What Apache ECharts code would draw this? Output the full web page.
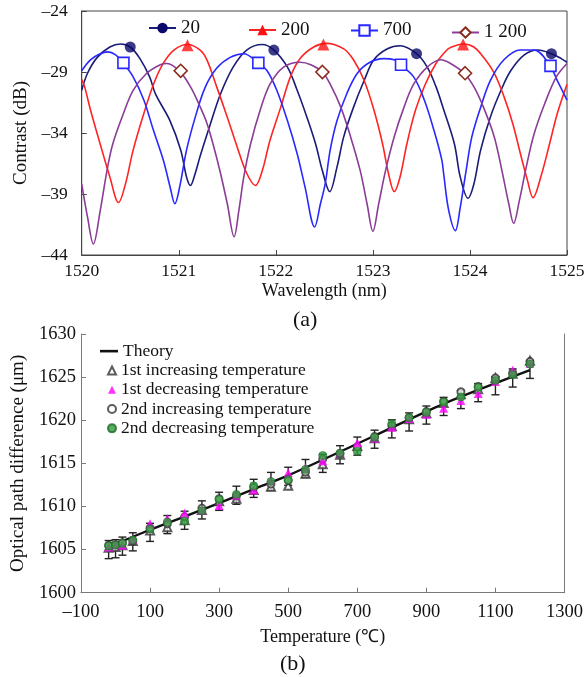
<!DOCTYPE html>
<html>
<head>
<meta charset="utf-8">
<script src="https://cdn.jsdelivr.net/npm/echarts/dist/echarts.min.js"></script>
<style>
html,body{margin:0;padding:0;background:#fff;}
#c{width:584px;height:677px;}
</style>
</head>
<body>
<div id="c"></div>
<script>
// ---------- (a) spectra: [wavelength nm, contrast dB] ----------
const curve20 = [[1520.00,-30.5],[1520.06,-29.1],[1520.16,-27.8],[1520.29,-26.95],[1520.40,-26.7],[1520.50,-26.95],[1520.60,-27.9],[1520.70,-29.4],[1520.76,-30.8],[1520.91,-33.0],[1521.02,-35.4],[1521.08,-37.6],[1521.12,-38.3],[1521.17,-37.3],[1521.22,-35.9],[1521.32,-33.4],[1521.43,-30.8],[1521.56,-28.6],[1521.70,-27.2],[1521.86,-26.75],[1521.98,-27.2],[1522.12,-28.6],[1522.22,-30.5],[1522.32,-32.7],[1522.41,-34.9],[1522.48,-37.1],[1522.555,-38.8],[1522.63,-36.8],[1522.70,-34.3],[1522.80,-31.9],[1522.91,-29.7],[1523.01,-28.0],[1523.15,-27.1],[1523.28,-26.85],[1523.45,-27.5],[1523.56,-28.6],[1523.65,-30.2],[1523.73,-32.1],[1523.84,-34.9],[1523.90,-37.6],[1523.98,-39.35],[1524.04,-38.2],[1524.11,-35.4],[1524.21,-32.7],[1524.32,-30.5],[1524.42,-28.9],[1524.56,-27.6],[1524.70,-27.2],[1524.84,-27.5],[1524.94,-27.9],[1525.00,-28.2]];
const curve200 = [[1520.00,-29.6],[1520.03,-30.2],[1520.09,-32.1],[1520.19,-34.9],[1520.29,-37.6],[1520.38,-39.7],[1520.45,-38.2],[1520.53,-35.4],[1520.64,-32.4],[1520.74,-30.0],[1520.84,-28.3],[1520.95,-27.2],[1521.09,-26.75],[1521.22,-27.2],[1521.29,-28.0],[1521.39,-30.2],[1521.50,-32.7],[1521.60,-35.1],[1521.70,-37.3],[1521.79,-38.3],[1521.86,-37.1],[1521.94,-34.6],[1522.05,-31.9],[1522.15,-29.4],[1522.25,-27.9],[1522.39,-26.95],[1522.52,-26.65],[1522.70,-27.1],[1522.80,-28.0],[1522.91,-29.7],[1523.01,-32.1],[1523.10,-34.9],[1523.16,-37.3],[1523.22,-38.8],[1523.28,-37.6],[1523.35,-34.9],[1523.44,-32.1],[1523.54,-30.0],[1523.65,-28.3],[1523.75,-27.3],[1523.80,-27.0],[1523.93,-26.7],[1524.04,-26.95],[1524.14,-27.8],[1524.25,-29.1],[1524.35,-31.0],[1524.44,-33.2],[1524.52,-35.7],[1524.59,-37.8],[1524.65,-39.3],[1524.73,-37.6],[1524.82,-34.9],[1524.90,-32.4],[1525.00,-30.0]];
const curve700 = [[1520.00,-28.9],[1520.09,-28.0],[1520.19,-27.5],[1520.27,-27.35],[1520.35,-27.6],[1520.42,-28.2],[1520.53,-29.4],[1520.64,-31.3],[1520.74,-33.8],[1520.84,-36.2],[1520.91,-38.4],[1520.96,-39.8],[1521.01,-38.4],[1521.08,-35.4],[1521.17,-32.7],[1521.27,-30.3],[1521.39,-28.7],[1521.53,-27.8],[1521.67,-27.5],[1521.81,-28.2],[1521.91,-28.9],[1522.01,-30.5],[1522.12,-33.0],[1522.22,-35.7],[1522.30,-38.4],[1522.40,-41.7],[1522.46,-39.8],[1522.51,-38.1],[1522.56,-35.4],[1522.63,-33.0],[1522.73,-30.8],[1522.84,-29.1],[1522.97,-28.2],[1523.11,-27.9],[1523.22,-28.0],[1523.28,-28.4],[1523.42,-29.4],[1523.53,-31.3],[1523.63,-33.8],[1523.71,-36.2],[1523.73,-37.4],[1523.78,-40.3],[1523.85,-42.0],[1523.90,-40.1],[1523.96,-37.1],[1524.02,-34.3],[1524.11,-31.9],[1524.21,-29.7],[1524.35,-28.0],[1524.52,-27.2],[1524.66,-27.2],[1524.82,-28.4],[1524.90,-29.7],[1525.00,-31.3]];
const curve1200 = [[1520.00,-38.2],[1520.06,-40.9],[1520.12,-43.1],[1520.19,-40.4],[1520.26,-37.1],[1520.32,-34.9],[1520.43,-32.4],[1520.53,-30.5],[1520.67,-29.1],[1520.81,-28.4],[1520.88,-28.3],[1521.01,-28.95],[1521.12,-30.2],[1521.22,-31.85],[1521.29,-33.2],[1521.36,-35.1],[1521.43,-37.3],[1521.50,-39.8],[1521.57,-42.5],[1521.62,-40.3],[1521.67,-37.6],[1521.74,-34.9],[1521.84,-32.1],[1521.94,-30.0],[1522.08,-28.6],[1522.25,-28.2],[1522.36,-28.4],[1522.48,-29.0],[1522.56,-30.0],[1522.67,-31.9],[1522.77,-34.3],[1522.87,-37.1],[1522.94,-39.8],[1523.00,-42.05],[1523.06,-39.8],[1523.13,-37.1],[1523.22,-34.3],[1523.32,-31.9],[1523.42,-30.0],[1523.56,-28.6],[1523.70,-28.0],[1523.80,-28.3],[1523.94,-29.1],[1524.04,-30.2],[1524.14,-31.9],[1524.25,-34.3],[1524.33,-37.1],[1524.40,-39.8],[1524.45,-41.4],[1524.51,-39.5],[1524.58,-36.8],[1524.66,-34.1],[1524.77,-31.6],[1524.89,-29.4],[1525.00,-28.3]];
const marks20 = [[1520.50,-26.95],[1521.98,-27.2],[1523.45,-27.5],[1524.84,-27.5]];
const marks200 = [[1521.09,-26.8],[1522.49,-26.75],[1523.93,-26.75]];
const marks700 = [[1520.43,-28.25],[1521.82,-28.25],[1523.29,-28.4],[1524.83,-28.5]];
const marks1200 = [[1521.02,-28.9],[1522.48,-29.0],[1523.95,-29.1]];
const legendA = ['20','200','700','1 200'];

// ---------- (b) optical path difference ----------
const temps = [-20,0,20,50,100,150,200,250,300,350,400,450,500,550,600,650,700,750,800,850,900,950,1000,1050,1100,1150,1200];
const inc1 = [1605.2,1605.3,1605.5,1606.0,1607.2,1607.6,1608.4,1609.6,1610.6,1610.9,1611.9,1612.3,1612.4,1613.8,1614.9,1616.0,1617.0,1617.9,1619.3,1620.1,1620.8,1622.0,1623.0,1623.6,1624.9,1625.4,1626.9];
const dec1 = [1605.3,1605.6,1605.5,1606.2,1608.0,1608.6,1609.2,1609.6,1610.1,1611.3,1611.9,1613.0,1613.9,1614.5,1615.3,1616.3,1617.4,1617.9,1619.2,1620.2,1620.7,1621.4,1622.3,1623.1,1624.5,1625.8,1626.6];
const inc2 = [1605.5,1605.6,1605.8,1606.0,1607.5,1608.0,1608.8,1609.8,1610.9,1611.2,1612.2,1612.6,1613.0,1614.0,1615.5,1616.1,1616.9,1618.1,1619.4,1620.3,1621.0,1622.2,1623.3,1623.9,1624.9,1625.5,1626.8];
const dec2 = [1605.4,1605.5,1605.7,1606.1,1607.4,1608.2,1608.3,1609.5,1610.8,1611.4,1612.4,1612.9,1613.1,1614.3,1615.9,1616.2,1616.4,1618.0,1619.6,1620.3,1620.9,1622.1,1622.7,1623.8,1624.6,1625.3,1626.5];
const errCenter = [1605.0,1605.1,1605.4,1605.9,1607.0,1607.9,1608.4,1609.6,1610.6,1611.3,1612.1,1612.9,1613.5,1614.4,1615.0,1616.0,1617.0,1617.8,1619.0,1619.8,1620.6,1621.6,1622.4,1623.2,1624.0,1624.9,1625.9];
const errHalf = 1.05;
const theoryT = [-20,100,250,400,500,750,950,1200];
const theoryV = [1605.3,1607.3,1609.6,1612.0,1613.6,1618.2,1621.9,1625.8];
const legendB = ['Theory','1st increasing temperature','1st decreasing temperature','2nd increasing temperature','2nd decreasing temperature'];

const FF = '"Liberation Serif","Times New Roman",serif';
const chart = echarts.init(document.getElementById('c'), null, {renderer:'canvas'});

const topAxisCol = '#444', botAxisCol = '#7a7a7a';
const plain = v => String(v);
const dashNeg = v => v < 0 ? '\u2013' + Math.abs(v) : String(v);

function lineSeries(name, data, lineColor, symbol, symColor){
  return {type:'line', name:name, data:data, xAxisIndex:0, yAxisIndex:0, smooth:0.35,
    symbol:symbol, showSymbol:false, lineStyle:{color:lineColor,width:1.6},
    itemStyle:{color:symColor}, emphasis:{disabled:true}, z:2};
}
function markSeries(data, symbol, color, size, hollow){
  return {type:'scatter', name:'m'+symbol+color, data:data, xAxisIndex:0, yAxisIndex:0,
    symbol:symbol, symbolSize:size,
    itemStyle: hollow ? {color:'#fff', borderColor:color, borderWidth:1.6, opacity:1} : {color:color},
    emphasis:{disabled:true}, z:5};
}
const cNavy='#1b1b78', cRed='#ff2424', cBlue='#2828ff', cPurple='#8a3c96', cBrown='#8b2b1c';

const legendTopsA = [18.5, 20.5, 21, 23];
const legendLeftsA = [148, 248, 350, 451];
const legends = legendA.map((n,i)=>({
  data:[n], left:legendLeftsA[i], top:legendTopsA[i], padding:0, itemWidth:27, itemHeight:13,
  selectedMode:false, textStyle:{fontFamily:FF, fontSize:19, color:'#111'}
}));
legends.push({
  data:[{name:legendB[0], icon:'path://M0,0H18V2.6H0Z'}],
  orient:'vertical', left:100, top:341.5, padding:0, itemWidth:18, itemHeight:8, itemGap:0,
  selectedMode:false, textStyle:{fontFamily:FF, fontSize:17.5, color:'#111', lineHeight:19.3}
});
legends.push({
  data:[legendB[1], legendB[2], legendB[3], legendB[4]],
  orient:'vertical', left:107, top:360.8, padding:0, itemWidth:8, itemHeight:8, itemGap:0,
  selectedMode:false, textStyle:{fontFamily:FF, fontSize:17.5, color:'#111', lineHeight:19.3}
});

const option = {
  animation:false,
  backgroundColor:'#fff',
  legend: legends,
  grid:[
    {left:81.7, right:17, top:11, height:244, show:true, borderColor:topAxisCol, borderWidth:1, outerBoundsMode:'none', containLabel:false},
    {left:81, right:19.5, top:334, height:258.7, outerBoundsMode:'none', containLabel:false}
  ],
  xAxis:[
    {type:'value', gridIndex:0, min:1520, max:1525, interval:1,
      name:'Wavelength (nm)', nameLocation:'middle', nameGap:27,
      nameTextStyle:{fontFamily:FF, fontSize:18, color:'#111'},
      axisLine:{show:true, lineStyle:{color:topAxisCol}}, axisTick:{show:true, inside:true, length:5, lineStyle:{color:topAxisCol}},
      axisLabel:{fontFamily:FF, fontSize:17.5, color:'#111', margin:7, formatter:plain}, splitLine:{show:false}},
    {type:'value', gridIndex:1, min:-100, max:1300, interval:200,
      name:'Temperature (\u2103)', nameLocation:'middle', nameGap:36,
      nameTextStyle:{fontFamily:FF, fontSize:18, color:'#111'},
      axisLine:{show:true, onZero:false, lineStyle:{color:botAxisCol}}, axisTick:{show:true, inside:true, length:5, lineStyle:{color:botAxisCol}},
      axisLabel:{fontFamily:FF, fontSize:18.5, color:'#111', margin:10, formatter:dashNeg}, splitLine:{show:false}}
  ],
  yAxis:[
    {type:'value', gridIndex:0, min:-44, max:-24, interval:5,
      name:'Contrast (dB)', nameLocation:'middle', nameGap:39,
      nameTextStyle:{fontFamily:FF, fontSize:19, color:'#111'},
      axisLine:{show:true, onZero:false, lineStyle:{color:topAxisCol}}, axisTick:{show:true, inside:true, length:5, lineStyle:{color:topAxisCol}},
      axisLabel:{fontFamily:FF, fontSize:17.5, color:'#111', margin:14, formatter:dashNeg}, splitLine:{show:false}},
    {type:'value', gridIndex:1, min:1600, max:1630, interval:5,
      name:'Optical path difference (\u03bcm)', nameLocation:'middle', nameGap:53,
      nameTextStyle:{fontFamily:FF, fontSize:19, color:'#111'},
      axisLine:{show:true, onZero:false, lineStyle:{color:botAxisCol}}, axisTick:{show:true, inside:true, length:5, lineStyle:{color:botAxisCol}},
      axisLabel:{fontFamily:FF, fontSize:18.5, color:'#111', margin:5, formatter:plain}, splitLine:{show:false}},
    {type:'value', gridIndex:1, min:1600, max:1630, position:'right',
      axisLine:{show:true, onZero:false, lineStyle:{color:botAxisCol}}, axisTick:{show:false}, axisLabel:{show:false}, splitLine:{show:false}}
  ],
  graphic:[
    {type:'text', left:293, top:309, style:{text:'(a)', font:'22px '+FF, fill:'#111'}},
    {type:'text', left:280, top:653, style:{text:'(b)', font:'22px '+FF, fill:'#111'}}
  ],
  series:[
    lineSeries('20', curve20, cNavy, 'circle', '#0a0a6a'),
    lineSeries('200', curve200, cRed, 'triangle', '#ff1010'),
    lineSeries('700', curve700, cBlue, 'emptyRect', cBlue),
    lineSeries('1 200', curve1200, cPurple, 'emptyDiamond', cBrown),
    markSeries(marks20, 'circle', '#0a0a6a', 11, false),
    markSeries(marks200, 'triangle', '#ff1010', 12, false),
    markSeries(marks700, 'rect', cBlue, 11, true),
    markSeries(marks1200, 'diamond', cBrown, 13, true),
    // (b)
    {type:'custom', name:'err', xAxisIndex:1, yAxisIndex:1, z:1,
      data: temps.map((t,i)=>[t, errCenter[i]-errHalf, errCenter[i]+errHalf]),
      renderItem:function(params, api){
        const t = api.value(0);
        const lo = api.coord([t, api.value(1)]), hi = api.coord([t, api.value(2)]);
        const w = 4, st = {stroke:'#222', lineWidth:1.4};
        return {type:'group', children:[
          {type:'line', shape:{x1:lo[0],y1:lo[1],x2:hi[0],y2:hi[1]}, style:st},
          {type:'line', shape:{x1:lo[0]-w,y1:lo[1],x2:lo[0]+w,y2:lo[1]}, style:st},
          {type:'line', shape:{x1:hi[0]-w,y1:hi[1],x2:hi[0]+w,y2:hi[1]}, style:st}
        ]};
      }},
    {type:'line', name:legendB[0], xAxisIndex:1, yAxisIndex:1, z:3,
      data: theoryT.map((t,i)=>[t, theoryV[i]]), smooth:0.3, symbol:'none',
      lineStyle:{color:'#111', width:2.4}, itemStyle:{color:'#111'}},
    {type:'scatter', name:legendB[1], xAxisIndex:1, yAxisIndex:1, z:4,
      data: temps.map((t,i)=>[t, inc1[i]]), symbol:'emptyTriangle', symbolSize:8,
      itemStyle:{color:'#333', borderWidth:1.2}},
    {type:'scatter', name:legendB[3], xAxisIndex:1, yAxisIndex:1, z:4,
      data: temps.map((t,i)=>[t, inc2[i]]), symbol:'emptyCircle', symbolSize:7,
      itemStyle:{color:'#333', borderWidth:1.2}},
    {type:'scatter', name:legendB[2], xAxisIndex:1, yAxisIndex:1, z:5,
      data: temps.map((t,i)=>[t, dec1[i]]), symbol:'triangle', symbolSize:9,
      itemStyle:{color:'#ff00ff'}},
    {type:'scatter', name:legendB[4], xAxisIndex:1, yAxisIndex:1, z:6,
      data: temps.map((t,i)=>[t, dec2[i]]), symbol:'circle', symbolSize:8,
      itemStyle:{color:'#2f9a3a', borderColor:'#1b6b23', borderWidth:0.8}}
  ]
};
chart.setOption(option);
</script>
</body>
</html>
